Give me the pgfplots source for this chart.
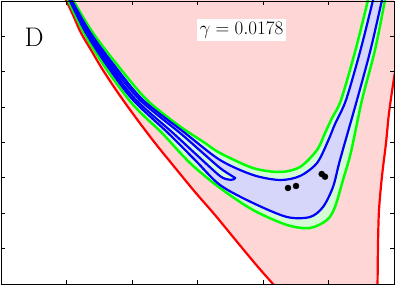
\documentclass[border=0pt]{standalone}
\usepackage{pgfplots}
\pgfplotsset{compat=1.18}
\definecolor{pinkf}{RGB}{255,214,214}
\definecolor{lgreen}{RGB}{214,250,214}
\definecolor{lblue}{RGB}{214,214,250}
\definecolor{cgreen}{RGB}{0,255,0}
\begin{document}
\begin{tikzpicture}
\begin{axis}[
 width=393pt, height=283pt, scale only axis,
 xmin=1, xmax=394, ymin=0, ymax=283,
 xtick={66.5,132,197.5,263,328.5},
 ytick={35.4,70.75,106.1,141.5,176.9,212.25,247.6},
 xticklabels={}, yticklabels={},
 tick align=inside,
 major tick length=4pt,
 axis line style={line width=0.9pt},
 every tick/.style={black, line width=0.8pt},
 axis on top,
 no markers,
]
% pink region between red curves
\addplot[fill=pinkf, draw=none] coordinates {
(50,300) (62.4,292) (66,284) (73,269) (81,251) (91,234) (101,217) (112,200) (123,184) (139,162) (155,141) (172,120) (195,92) (215,69) (238,41) (258,17) (273,0) (277,-5)
(377.5,-6) (378,39) (379,74) (382,108) (386,141) (389,171) (394,206) (396,216) (400,216) (400,300)} -- cycle;
% green band
\addplot[fill=lgreen, draw=none, smooth] coordinates {
(63.5,292) (68,284) (84,251) (105,217) (129,184) (145,167) (162,151) (190,121) (220,96) (253,74) (287,59) (310,56) (327,64) (335,77) (343,104) (351,132) (362,184) (375,234) (385,284) (386.5,292)
(370,292) (368,284) (355.5,234) (341,184) (332,166) (325,151) (317,134) (300,117) (280,112) (253,116) (220,131) (205,141) (178,159) (147,184) (119,217) (93,251) (73,284) (68.2,292)} -- cycle;
% blue band
\addplot[fill=lblue, draw=none, smooth] coordinates {
(65.5,292) (69.5,284) (86,251) (108,217) (133,184) (168,151) (195,124) (220,99) (253,81) (287,67) (310,67) (323,77) (333,97) (340,124) (357,184) (370.5,234) (382,284) (384,292)
(374.5,292) (373,284) (360.5,234) (346,184) (335,160) (328,143) (317,121) (300,108) (280,104) (253,109) (220,124) (185,151) (143,184) (115.5,217) (90.5,251) (71.5,284) (67.5,292)} -- cycle;
% tongue
\addplot[fill=lgreen, draw=blue, line width=2.2pt, smooth] coordinates {
(66.5,292) (70,284) (87,251) (110,217) (136,184) (173,151) (200,126) (220,108) (228,104.5) (233,104.5) (235,106) (232,108) (220,116) (200,133.5) (180,151) (140,184) (113,217) (89,251) (71,284) (67,292)};
% red curves
\addplot[red, line width=2.2pt, smooth] coordinates {
(62.4,292) (66,284) (73,269) (81,251) (91,234) (101,217) (112,200) (123,184) (139,162) (155,141) (172,120) (195,92) (215,69) (238,41) (258,17) (273,0) (277,-5)};
\addplot[red, line width=2.2pt, smooth] coordinates {
(377.5,-6) (378,39) (379,74) (382,108) (386,141) (389,171) (394,206) (396,216)};
% green lines
\addplot[cgreen, line width=2.5pt, smooth] coordinates {
(63.5,292) (68,284) (84,251) (105,217) (129,184) (145,167) (162,151) (190,121) (220,96) (253,74) (287,59) (310,56) (327,64) (335,77) (343,104) (351,132) (362,184) (375,234) (385,284) (386.5,292)};
\addplot[cgreen, line width=2.5pt, smooth] coordinates {
(370,292) (368,284) (355.5,234) (341,184) (332,166) (325,151) (317,134) (300,117) (280,112) (253,116) (220,131) (205,141) (178,159) (147,184) (119,217) (93,251) (73,284) (68.2,292)};
% blue lines
\addplot[blue, line width=2.2pt, smooth] coordinates {
(65.5,292) (69.5,284) (86,251) (108,217) (133,184) (168,151) (195,124) (220,99) (253,81) (287,67) (310,67) (323,77) (333,97) (340,124) (357,184) (370.5,234) (382,284) (384,292)};
\addplot[blue, line width=2.2pt, smooth] coordinates {
(374.5,292) (373,284) (360.5,234) (346,184) (335,160) (328,143) (317,121) (300,108) (280,104) (253,109) (220,124) (185,151) (143,184) (115.5,217) (90.5,251) (71.5,284) (67.5,292)};
% dots
\addplot[only marks, mark=*, mark size=3pt, black] coordinates {(288,96) (296,98) (321.7,110) (325,107.3)};
\node[font=\fontsize{24.88}{28}\selectfont, inner sep=0pt, scale=1.08, transform shape] at (axis cs:34,247) {D};
\node[fill=white, inner sep=2.7pt, font=\fontsize{17.28}{20}\selectfont, scale=1.1, transform shape] at (axis cs:241.5,254) {$\gamma = 0.0178$};
\end{axis}
\pgfresetboundingbox
\path[use as bounding box] ([xshift=-1pt,yshift=-2pt]current axis.south west) rectangle ([xshift=1pt,yshift=1pt]current axis.north east);
\end{tikzpicture}
\end{document}
